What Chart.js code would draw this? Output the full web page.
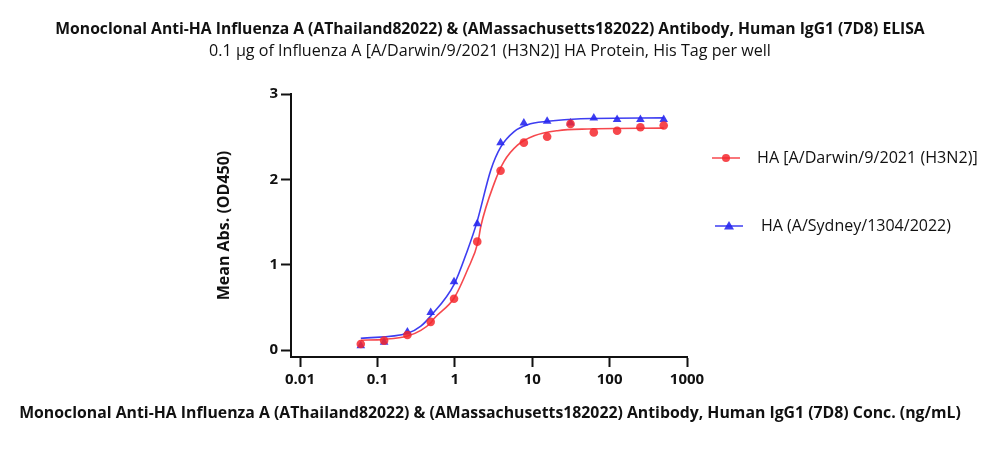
<!DOCTYPE html>
<html>
<head>
<meta charset="utf-8">
<script src="https://cdn.jsdelivr.net/npm/chart.js@4.4.1/dist/chart.umd.min.js"></script>
<style>
  html, body { margin: 0; padding: 0; background: #fff; }
  #wrap { width: 1000px; height: 467px; }
</style>
</head>
<body>
<div id="wrap"><canvas id="elisa"></canvas></div>
<script>
// =================== DATA ===================
const conc = [0.061, 0.122, 0.244, 0.488, 0.977, 1.95, 3.9, 7.8, 15.6, 31.25, 62.5, 125, 250, 500];
const darwinOD = [0.07, 0.11, 0.175, 0.33, 0.60, 1.27, 2.10, 2.43, 2.50, 2.65, 2.55, 2.57, 2.61, 2.63];
const sydneyOD = [0.05, 0.09, 0.21, 0.44, 0.80, 1.48, 2.43, 2.66, 2.68, 2.66, 2.72, 2.70, 2.70, 2.70];

// fitted curves
const darwinFitX = [0.061, 0.121, 0.245, 0.364, 0.49, 0.54, 0.98, 1.46, 2.0, 2.17, 3.22, 4.33, 6.46, 10.6, 21.2, 51.8, 500];
const darwinFitY = [0.115, 0.125, 0.164, 0.23, 0.32, 0.37, 0.61, 0.94, 1.27, 1.45, 1.95, 2.21, 2.40, 2.51, 2.57, 2.59, 2.60];
const sydneyFitX = [0.061, 0.245, 0.364, 0.49, 0.98, 1.46, 1.92, 2.92, 3.93, 5.84, 8.69, 15.8, 42.5, 500];
const sydneyFitY = [0.137, 0.196, 0.28, 0.40, 0.77, 1.17, 1.49, 2.11, 2.38, 2.56, 2.64, 2.68, 2.71, 2.72];

const xTicks = [0.01, 0.1, 1, 10, 100, 1000];
const xTickLabels = ["0.01", "0.1", "1", "10", "100", "1000"];
const yTicks = [0, 1, 2, 3];

const seriesNames = ["HA [A/Darwin/9/2021 (H3N2)]", "HA (A/Sydney/1304/2022)"];
const titleText = "Monoclonal Anti-HA Influenza A (AThailand82022) & (AMassachusetts182022) Antibody, Human IgG1 (7D8) ELISA";
const subtitleText = "0.1 µg of Influenza A [A/Darwin/9/2021 (H3N2)] HA Protein, His Tag per well";
const xTitleText = "Monoclonal Anti-HA Influenza A (AThailand82022) & (AMassachusetts182022) Antibody, Human IgG1 (7D8) Conc. (ng/mL)";
const yTitleText = "Mean Abs. (OD450)";

const RED = "rgba(244,40,46,0.85)";
const BLUE = "rgba(40,40,240,0.9)";
const FONT = "'Open Sans', sans-serif";

const pts = (xs, ys) => xs.map((x, i) => ({ x: x, y: ys[i] }));

// shrink/grow a font until the text is about as wide as in the picture
function fitText(ctx, text, weight, size, width) {
  ctx.font = weight + " " + size + "px " + FONT;
  const w = ctx.measureText(text).width;
  const s = Math.min(size * 1.15, Math.max(size * 0.85, size * width / w));
  ctx.font = weight + " " + s.toFixed(2) + "px " + FONT;
}

// =================== TEXTS + LEGEND (drawn by hand) ===================
const extras = {
  id: "extras",
  afterDraw(chart) {
    const ctx = chart.ctx;
    ctx.save();
    ctx.fillStyle = "#111";
    ctx.textAlign = "center";
    ctx.textBaseline = "middle";
    fitText(ctx, titleText, "bold", 15, 870);
    ctx.fillText(titleText, 490, 30);
    fitText(ctx, subtitleText, "normal", 14, 565);
    ctx.fillText(subtitleText, 490, 51);
    fitText(ctx, xTitleText, "bold", 15, 942);
    ctx.fillText(xTitleText, 490, 413);

    const items = [
      { y: 158, x0: 712, x1: 740, text: seriesNames[0], color: RED, shape: "dot", tx: 757, w: 221 },
      { y: 226, x0: 715, x1: 743, text: seriesNames[1], color: BLUE, shape: "tri", tx: 761, w: 190 }
    ];
    ctx.textAlign = "left";
    items.forEach(it => {
      ctx.strokeStyle = it.color;
      ctx.lineWidth = 1.5;
      ctx.beginPath();
      ctx.moveTo(it.x0, it.y);
      ctx.lineTo(it.x1, it.y);
      ctx.stroke();
      const cx = (it.x0 + it.x1) / 2;
      ctx.fillStyle = it.color;
      ctx.beginPath();
      if (it.shape === "dot") {
        ctx.arc(cx, it.y, 4, 0, Math.PI * 2);
      } else {
        ctx.moveTo(cx, it.y - 5);
        ctx.lineTo(cx + 5, it.y + 3.5);
        ctx.lineTo(cx - 5, it.y + 3.5);
        ctx.closePath();
      }
      ctx.fill();
      ctx.fillStyle = "#111";
      fitText(ctx, it.text, "normal", 15, it.w);
      ctx.fillText(it.text, it.tx, it.y);
    });
    ctx.restore();
  }
};

// =================== CHART ===================
const chart = new Chart(document.getElementById("elisa"), {
  type: "scatter",
  data: {
    datasets: [
      {
        label: seriesNames[0],
        data: pts(conc, darwinOD),
        pointStyle: "circle",
        pointRadius: 4.3,
        backgroundColor: RED,
        borderWidth: 0,
        order: 0
      },
      {
        label: seriesNames[1],
        data: pts(conc, sydneyOD),
        pointStyle: "triangle",
        pointRadius: 5,
        backgroundColor: BLUE,
        borderWidth: 0,
        order: 1
      },
      {
        label: "fit1",
        data: pts(darwinFitX, darwinFitY),
        showLine: true,
        pointRadius: 0,
        borderColor: RED,
        borderWidth: 1.6,
        cubicInterpolationMode: "monotone",
        order: 2
      },
      {
        label: "fit2",
        data: pts(sydneyFitX, sydneyFitY),
        showLine: true,
        pointRadius: 0,
        borderColor: BLUE,
        borderWidth: 1.6,
        cubicInterpolationMode: "monotone",
        order: 3
      }
    ]
  },
  options: {
    responsive: true,
    maintainAspectRatio: false,
    animation: false,
    layout: { padding: { left: 215, right: 313, top: 94, bottom: 45 } },
    plugins: {
      legend: { display: false },
      tooltip: { enabled: false }
    },
    scales: {
      x: {
        type: "logarithmic",
        min: 0.00765,
        max: 1000,
        afterBuildTicks: s => { s.ticks = xTicks.map(v => ({ value: v })); },
        afterFit: s => { s.height = 65; },
        ticks: {
          color: "#111",
          font: { family: FONT, size: 15, weight: "bold" },
          padding: 4,
          maxRotation: 0,
          autoSkip: false,
          callback: (v, i) => xTickLabels[i]
        },
        grid: { drawOnChartArea: false, drawTicks: true, tickLength: 10, tickWidth: 2, tickColor: "#111" },
        border: { display: true, color: "#111", width: 2 }
      },
      y: {
        type: "linear",
        min: -0.082,
        max: 3,
        afterBuildTicks: s => { s.ticks = yTicks.map(v => ({ value: v })); },
        afterFit: s => { s.width = 76; },
        ticks: {
          color: "#111",
          font: { family: FONT, size: 15, weight: "bold" },
          padding: 3,
          callback: v => String(v)
        },
        grid: { drawOnChartArea: false, drawTicks: true, tickLength: 10, tickWidth: 2, tickColor: "#111" },
        border: { display: true, color: "#111", width: 2 },
        title: {
          display: true,
          text: yTitleText,
          color: "#111",
          font: { family: FONT, size: 16, weight: "bold", lineHeight: 1.2 },
          padding: { top: 0, bottom: 0 }
        }
      }
    }
  },
  plugins: [extras]
});
</script>
</body>
</html>
